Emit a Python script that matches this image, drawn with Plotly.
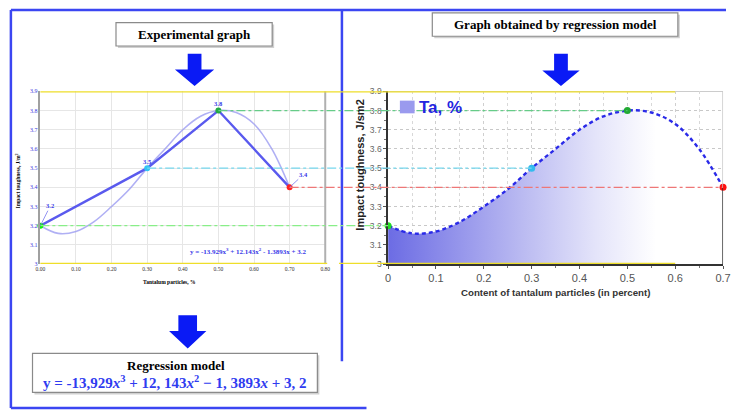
import plotly.graph_objects as go

W, H = 734, 415

# ---------------- data ----------------
exp_x = [0.0, 0.3, 0.5, 0.7]
exp_y = [3.2, 3.5, 3.8, 3.4]
exp_labels = ["3.2", "3.5", "3.8", "3.4"]
left_point_colors = ["#11ee11", "#33c4f4", "#22aa44", "#ff2222"]
right_point_colors = ["#22dd22", "#33bbee", "#22aa33", "#ff1111"]
ref_line_colors = ["#88ee88", "#77d8ee", "#66cc88", "#ee7777"]

# regression curve (every 0.05)
curve_x = [0.0, 0.05, 0.10, 0.15, 0.20, 0.25, 0.30, 0.35, 0.40, 0.45, 0.50, 0.55, 0.60, 0.65, 0.70]
curve_y = [3.20, 3.16, 3.17, 3.22, 3.30, 3.39, 3.50, 3.60, 3.70, 3.77, 3.80, 3.79, 3.73, 3.60, 3.40]

left_xticks = [0.0, 0.1, 0.2, 0.3, 0.4, 0.5, 0.6, 0.7, 0.8]
y_ticks = [3.0, 3.1, 3.2, 3.3, 3.4, 3.5, 3.6, 3.7, 3.8, 3.9]
right_xticks = [0.0, 0.1, 0.2, 0.3, 0.4, 0.5, 0.6, 0.7]

# ---------------- layout helpers ----------------
def px(x):
    return x / W

def py(y):
    return 1 - y / H

LX = (px(36), px(326))
RX = (px(390), px(731))
YD = (py(265.5), py(88.5))
LRANGE = (0.0, 0.8)
RRANGE = (0.0, 0.7)
YRANGE = (3.0, 3.9)

def lx(v):
    return LX[0] + (v - LRANGE[0]) / (LRANGE[1] - LRANGE[0]) * (LX[1] - LX[0])

def rx(v):
    return RX[0] + (v - RRANGE[0]) / (RRANGE[1] - RRANGE[0]) * (RX[1] - RX[0])

SERIF = "Liberation Serif"
SANS = "Liberation Sans"
BLUE = "#3b46f2"

fig = go.Figure()

# ---------- left (experimental) chart ----------
fig.add_trace(go.Scatter(
    x=curve_x, y=curve_y, mode="lines", line=dict(color="rgba(150,150,240,0.75)", width=1.6, shape="spline"),
    xaxis="x", yaxis="y", hoverinfo="skip"))
fig.add_trace(go.Scatter(
    x=exp_x, y=exp_y, mode="lines", line=dict(color="#5a5aee", width=2.4),
    xaxis="x", yaxis="y"))
fig.add_trace(go.Scatter(
    x=exp_x, y=exp_y, mode="markers", marker=dict(color=left_point_colors, size=6),
    xaxis="x", yaxis="y", cliponaxis=False))

# ---------- right (regression) chart ----------
fig.add_trace(go.Scatter(
    x=curve_x, y=curve_y, mode="lines", fill="tozeroy",
    fillgradient=dict(type="horizontal",
                      colorscale=[[0, "rgb(108,108,228)"], [0.42, "rgb(190,190,242)"],
                                  [0.62, "rgb(228,228,250)"], [0.8, "rgb(255,255,255)"], [1, "rgb(255,255,255)"]]),
    line=dict(color="#2a2ae8", width=2.4, dash="4px,3px", shape="spline"),
    xaxis="x2", yaxis="y2"))
fig.add_trace(go.Scatter(
    x=exp_x, y=exp_y, mode="markers", marker=dict(color=right_point_colors, size=7),
    xaxis="x2", yaxis="y2", cliponaxis=False))

shapes = []
annotations = []

# blue outer frame
frame = dict(type="line", xref="paper", yref="paper", line=dict(color=BLUE, width=2.5))
shapes.append({**frame, "x0": px(6), "x1": px(734), "y0": py(5), "y1": py(5)})
shapes.append({**frame, "x0": px(6), "x1": px(6), "y0": py(5), "y1": py(413)})
shapes.append({**frame, "x0": px(6), "x1": px(368), "y0": py(413), "y1": py(413)})
shapes.append({**frame, "x0": px(343), "x1": px(343), "y0": py(5), "y1": py(365)})

# boxes with shadow
def box(x0, y0, x1, y1):
    shapes.append(dict(type="rect", xref="paper", yref="paper", x0=px(x0 + 2), x1=px(x1 + 2),
                       y0=py(y0 + 2), y1=py(y1 + 2), line=dict(width=0), fillcolor="#d0d0d0"))
    shapes.append(dict(type="rect", xref="paper", yref="paper", x0=px(x0), x1=px(x1),
                       y0=py(y0), y1=py(y1), line=dict(color="#8a8a8a", width=1.2), fillcolor="white"))

box(113, 18, 272, 42)
box(435, 8, 685, 32)
box(28, 357, 318, 397)

# arrows
def down_arrow(cx, top, mid, tip, sw, hw):
    pts = [(cx - sw, top), (cx + sw, top), (cx + sw, mid), (cx + hw, mid), (cx, tip), (cx - hw, mid), (cx - sw, mid)]
    path = "M " + " L ".join(f"{px(a):.5f},{py(b):.5f}" for a, b in pts) + " Z"
    shapes.append(dict(type="path", xref="paper", yref="paper", path=path,
                       fillcolor="#0a1af5", line=dict(width=0)))

down_arrow(193, 50, 66, 83, 7, 20)
down_arrow(566, 50, 67, 83, 7, 19)
down_arrow(186, 318, 334, 352, 9.5, 19)

# left chart decoration: right border and yellow lines
shapes.append(dict(type="line", xref="paper", yref="paper", x0=lx(0.8), x1=lx(0.8), y0=YD[0], y1=YD[1],
                   line=dict(color="#b0b0b0", width=2)))
YEL = "#eede2a"
shapes.append(dict(type="line", xref="paper", yref="y", x0=lx(0), x1=rx(0.6), y0=3.9, y1=3.9,
                   line=dict(color=YEL, width=2.5)))
shapes.append(dict(type="line", xref="paper", yref="y", x0=lx(0), x1=px(328), y0=3.0, y1=3.0,
                   line=dict(color=YEL, width=2.5)))

# right chart border
shapes.append(dict(type="line", xref="x2", yref="y2", x0=0, x1=0.7, y0=3.9, y1=3.9,
                   line=dict(color="#bbbbbb", width=1.5), layer="below"))
shapes.append(dict(type="line", xref="x2", yref="y2", x0=0.7, x1=0.7, y0=3.4, y1=3.9,
                   line=dict(color="#c8c8c8", width=1.5)))
shapes.append(dict(type="line", xref="x2", yref="y2", x0=0.7, x1=0.7, y0=3.0, y1=3.4,
                   line=dict(color="#333333", width=1.5)))
shapes.append(dict(type="line", xref="paper", yref="y", x0=px(340), x1=rx(0.6), y0=3.0, y1=3.0,
                   line=dict(color=YEL, width=2.5)))

# horizontal reference lines linking the two charts
for xv, yv, c in zip(exp_x, exp_y, ref_line_colors):
    shapes.append(dict(type="line", xref="paper", yref="y", x0=lx(xv), x1=rx(xv), y0=yv, y1=yv,
                       line=dict(color=c, width=1.3, dash="dashdot")))

# legend-like square
shapes.append(dict(type="rect", xref="paper", yref="paper", x0=px(402), x1=px(417), y0=py(111), y1=py(98),
                   fillcolor="#9a9aee", line=dict(width=0)))

def ann(text, x, y, size, color="black", family=SERIF, xanchor="center", **kw):
    annotations.append(dict(text=text, x=px(x), y=py(y), xref="paper", yref="paper", showarrow=False,
                            font=dict(size=size, color=color, family=family), xanchor=xanchor,
                            yanchor="middle", **kw))

ann("<b>Experimental graph</b>", 192.5, 30, 13)
ann("<b>Graph obtained by regression model</b>", 560, 20, 13)
ann("<b>Regression model</b>", 174, 369, 13)
ann("<b>y = -13,929<i>x</i><sup>3</sup> + 12, 143<i>x</i><sup>2</sup> − 1, 3893<i>x</i> + 3, 2</b>",
    173, 386, 15, color="#2f3cf0")

# left chart texts
ann("<b>Impact toughness, J/m<sup>2</sup></b>", 13, 180, 5.5, textangle=-90)
ann("<b>Tantalum particles, %</b>", 167, 284, 5.5)
ann("<b>y = -13.929x<sup>3</sup> + 12.143x<sup>2</sup> - 1.3893x + 3.2</b>", 248, 253, 7, color="#3535e8")

label_off = [(10, -20, True), (0, -7, False), (0, -7, False), (14, -13, True)]
for xv, yv, t, (ax, ay, arrow) in zip(exp_x, exp_y, exp_labels, label_off):
    if arrow:
        annotations.append(dict(text=f"<b>{t}</b>", x=xv, y=yv, xref="x", yref="y", showarrow=True,
                                arrowhead=0, arrowwidth=0.8, arrowcolor="#7777ee", ax=ax, ay=ay,
                                font=dict(size=6.5, color="#3535e8", family=SERIF)))
    else:
        annotations.append(dict(text=f"<b>{t}</b>", x=xv, y=yv, xref="x", yref="y", showarrow=False,
                                yshift=-ay, font=dict(size=6.5, color="#3535e8", family=SERIF)))

# right chart texts
ann("<b>Impact toughness, J/sm2</b>", 361, 164, 11, family=SANS, color="#222222", textangle=-90)
ann("<b>Content of tantalum particles (in percent)</b>", 560, 295, 9.7, family=SANS, color="#333333")
ann("<b>Ta, %</b>", 419, 105, 17, family=SANS, color="#2424e0", xanchor="left")

fig.update_layout(
    width=W, height=H, margin=dict(l=0, r=0, t=0, b=0),
    paper_bgcolor="white", plot_bgcolor="white", showlegend=False,
    shapes=shapes, annotations=annotations,
    xaxis=dict(domain=list(LX), range=list(LRANGE), tickvals=left_xticks, tickformat=".2f",
               showgrid=True, gridcolor="#e6e6e6", gridwidth=1, zeroline=False,
               showline=False, ticks="", anchor="y",
               tickfont=dict(family=SERIF, size=5.5, color="#333333"), fixedrange=True),
    yaxis=dict(domain=list(YD), range=list(YRANGE), tickvals=y_ticks,
               showgrid=True, gridcolor="#e6e6e6", gridwidth=1, zeroline=False,
               showline=True, linecolor="#a0a0a0", linewidth=1.5, ticks="", anchor="x",
               tickfont=dict(family=SERIF, size=6, color="#3a3ae0"), fixedrange=True),
    xaxis2=dict(domain=list(RX), range=list(RRANGE), tickvals=right_xticks,
                showgrid=True, gridcolor="#cfcfcf", griddash="3px,3px", gridwidth=1, zeroline=False,
                showline=True, linecolor="#333333", linewidth=1.5, ticks="outside", ticklen=3,
                tickcolor="#555555", anchor="y2",
                minor=dict(dtick=0.05, showgrid=True, gridcolor="#d8d8d8", griddash="3px,3px",
                           ticks="outside", ticklen=2, tickcolor="#777777"),
                tickfont=dict(family=SANS, size=11, color="#555555"), fixedrange=True),
    yaxis2=dict(domain=list(YD), range=list(YRANGE), tickvals=y_ticks,
                showgrid=True, gridcolor="#c8c8c8", griddash="3px,3px", gridwidth=1, zeroline=False,
                showline=True, linecolor="#333333", linewidth=1.5, ticks="outside", ticklen=3,
                tickcolor="#555555", anchor="x2",
                minor=dict(dtick=0.05, ticks="outside", ticklen=2, tickcolor="#777777"),
                tickfont=dict(family=SANS, size=8.5, color="#666666"), fixedrange=True),
)

fig.write_html("out.html", config={"displayModeBar": False},
               post_script="document.body.style.margin='0';document.body.style.overflow='hidden';")
